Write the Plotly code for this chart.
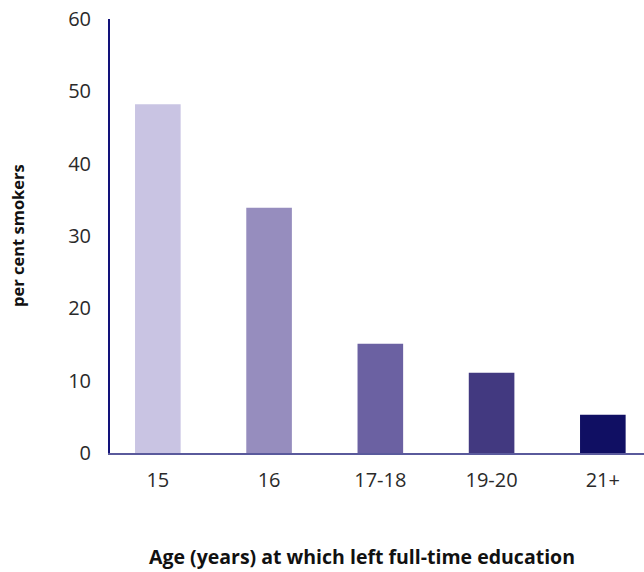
import plotly.graph_objects as go

categories = ["15", "16", "17-18", "19-20", "21+"]
values = [48.2, 33.9, 15.1, 11.1, 5.3]
colors = ["#c9c4e3", "#968dbe", "#6b61a2", "#423980", "#100f63"]
y_ticks = [0, 10, 20, 30, 40, 50, 60]

fig = go.Figure(go.Bar(x=categories, y=values, marker=dict(color=colors, line=dict(width=0)),
                       width=0.41, hoverinfo="skip"))

fig.update_layout(
    width=644, height=572,
    margin=dict(l=110, r=0, t=19, b=119),
    paper_bgcolor="white", plot_bgcolor="white",
    showlegend=False,
    font=dict(family="Open Sans", size=20, color="#2a2a2a"),
    xaxis=dict(type="category", range=[-0.43, 4.37], showgrid=False, zeroline=False,
               showline=True, linecolor="#5a5a9c", linewidth=2, ticks="", ticklabelstandoff=8,
               tickfont=dict(size=20)),
    yaxis=dict(range=[0, 60], tickvals=y_ticks, showgrid=False, zeroline=False,
               showline=True, linecolor="#12127a", linewidth=2, ticks="", ticklabelstandoff=13,
               tickfont=dict(size=20)),
    annotations=[
        dict(text="<b>Age (years) at which left full-time education</b>", xref="paper", yref="paper",
             x=(362 - 110) / 534, y=-(556 - 453) / 434, xanchor="center", yanchor="middle",
             showarrow=False, font=dict(family="Open Sans", size=19.5, color="#111111")),
        dict(text="<b>per cent smokers</b>", xref="paper", yref="paper",
             x=-(110 - 17) / 534, y=(453 - 236) / 434, xanchor="center", yanchor="middle",
             textangle=-90, showarrow=False, font=dict(family="Open Sans", size=16.5, color="#111111")),
    ],
)

fig.write_html("out.html", config={"displayModeBar": False},
               post_script="document.body.style.margin='0';document.body.style.overflow='hidden';")
